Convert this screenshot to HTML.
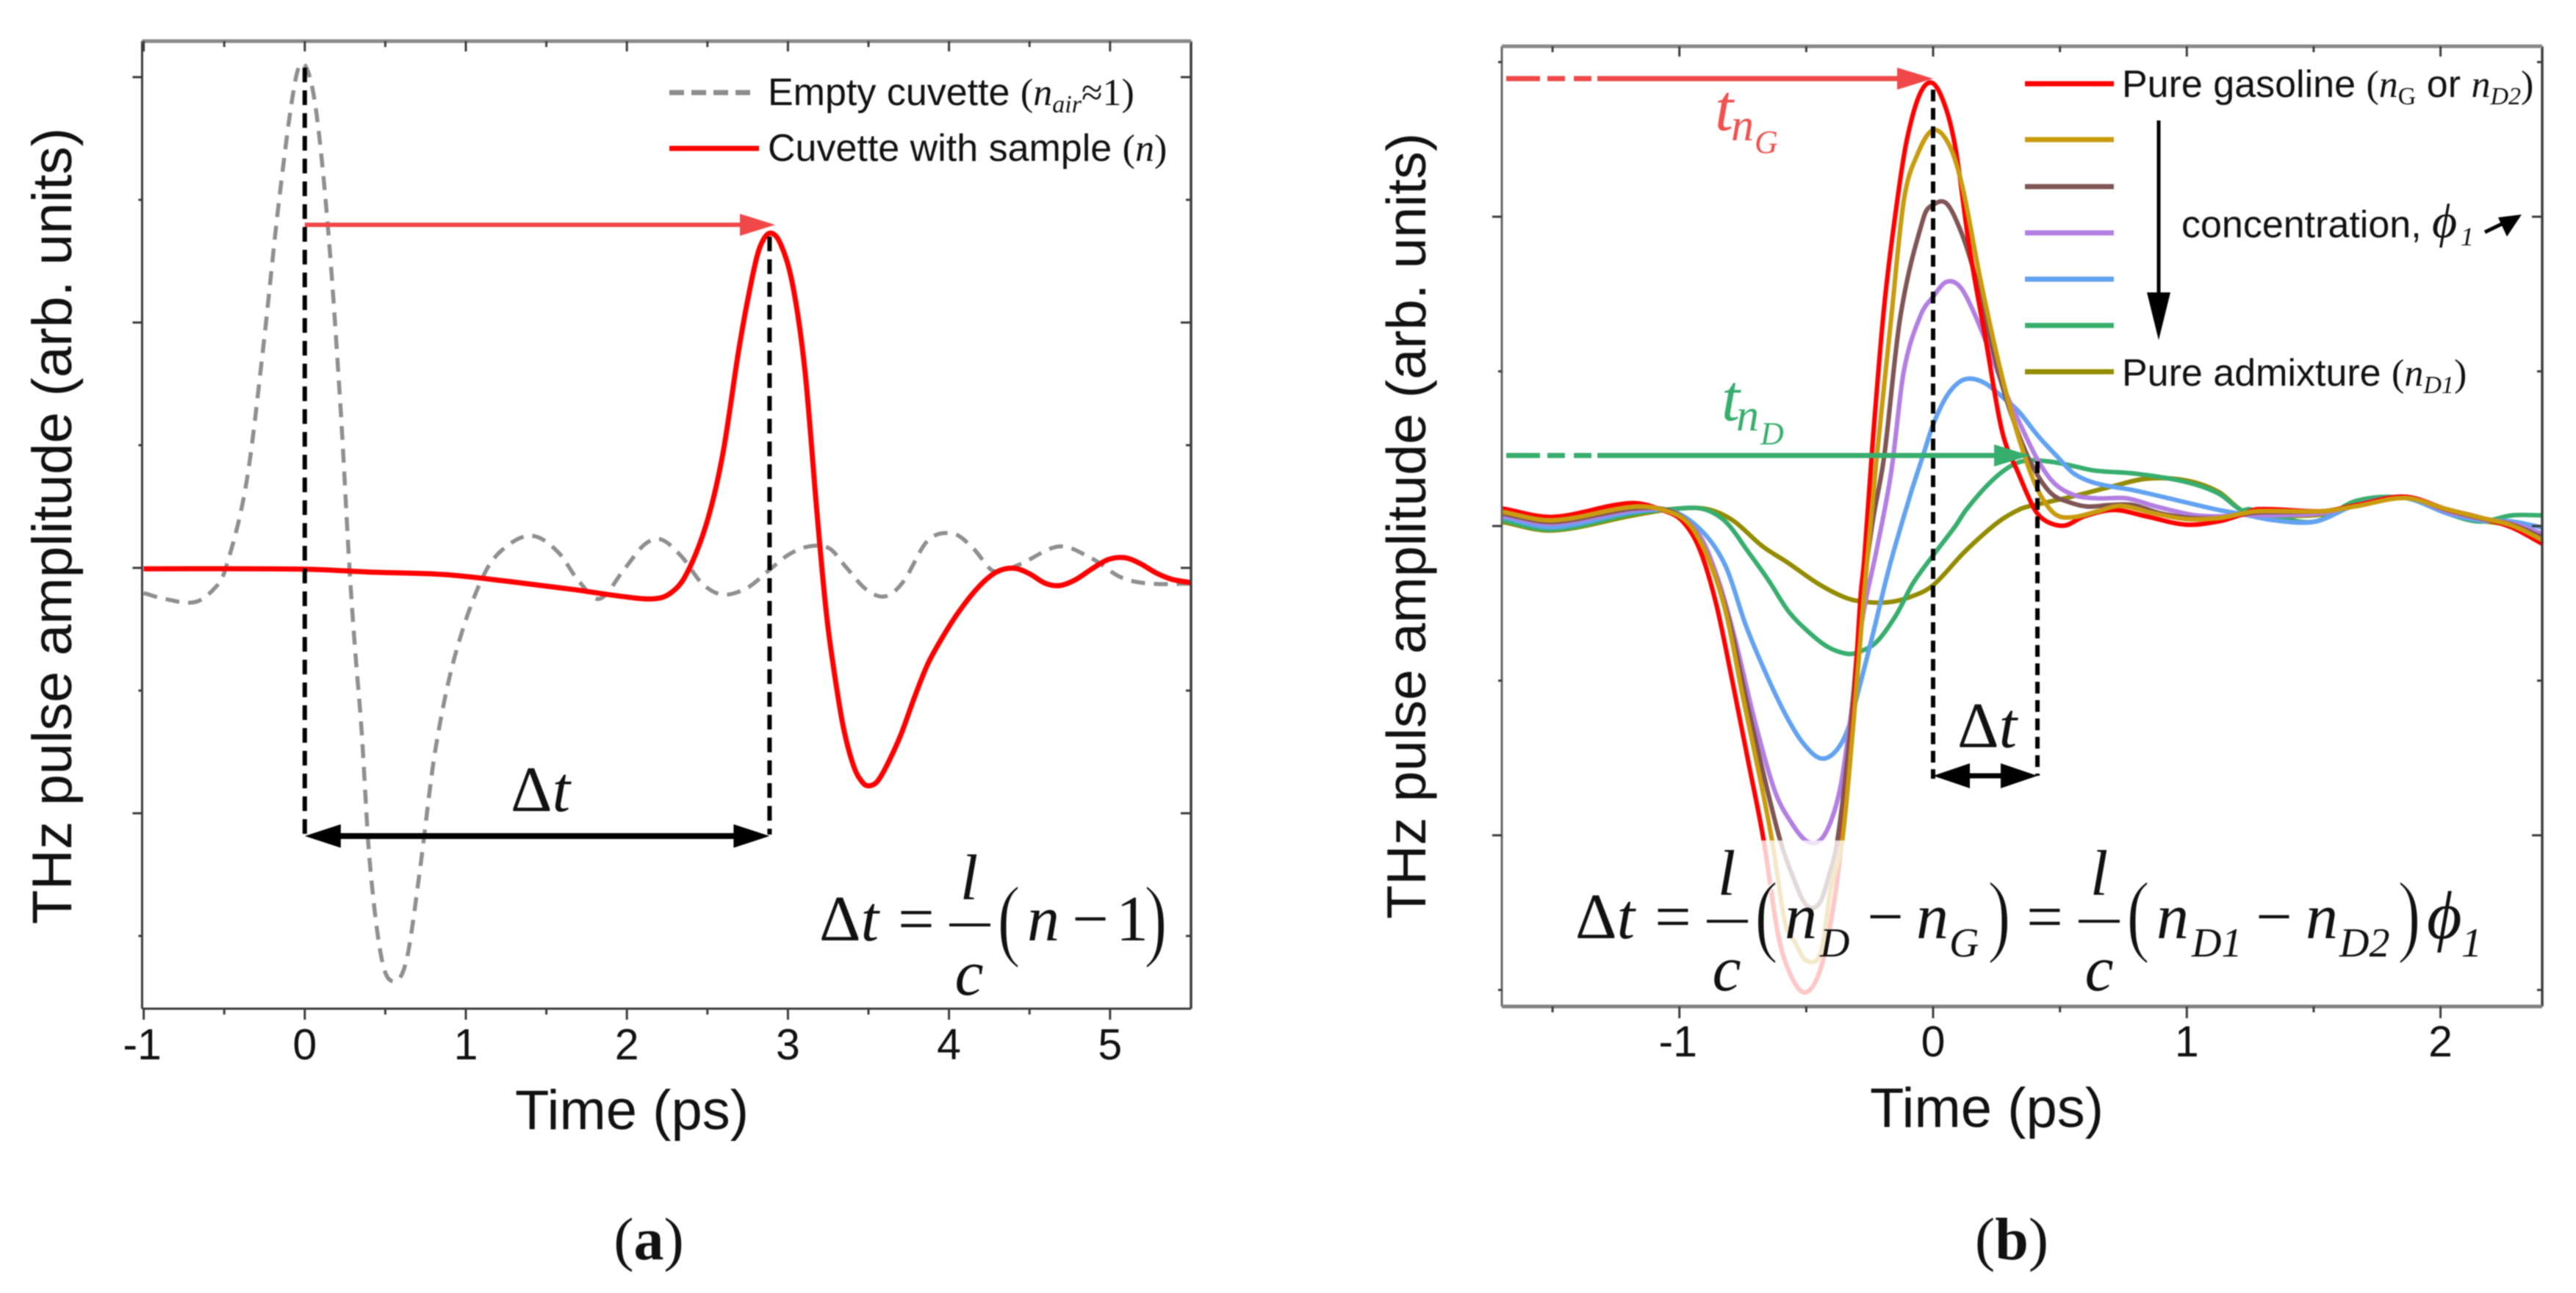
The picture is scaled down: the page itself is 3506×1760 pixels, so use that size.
<!DOCTYPE html>
<html>
<head>
<meta charset="utf-8">
<title>THz pulse amplitude charts</title>
<style>
html,body{margin:0;padding:0;background:#fff}
svg{display:block;filter:blur(0.7px)}
.sans{font-family:"Liberation Sans",sans-serif}
.serif{font-family:"Liberation Serif",serif}
.it{font-family:"Liberation Serif",serif;font-style:italic}
.paren{font-family:"Liberation Serif",serif;font-size:96px;stroke:#fff;stroke-width:1.6px}
</style>
</head>
<body>
<svg id="fig" xmlns="http://www.w3.org/2000/svg" width="3506" height="1760" viewBox="0 0 3506 1760">
<rect width="3506" height="1760" fill="#fff"/>
<g id="a-series"></g>
<g id="a-axes"></g>
<g id="b-series"></g>
<rect x="2047" y="1144" width="1411" height="224" fill="#fff" fill-opacity="0.78"/>
<g id="b-axes"></g>
<g id="a-annot"></g>
<g id="b-annot"></g>

<!-- panel a text -->
<text class="sans" font-size="76.5" text-anchor="middle" transform="translate(97,716) rotate(-90)" fill="#111">THz pulse amplitude (arb. units)</text>
<text class="sans" font-size="76" text-anchor="middle" x="860" y="1537" fill="#111">Time (ps)</text>
<g>
<line x1="911" y1="126" x2="1031" y2="126" stroke="#8c8c8c" stroke-width="7" stroke-dasharray="20 10"/>
<line x1="911" y1="202" x2="1033" y2="202" stroke="#f00" stroke-width="7"/>
<text x="1045" y="143" font-size="52" fill="#111"><tspan class="sans">Empty cuvette </tspan><tspan class="serif">(</tspan><tspan class="it">n</tspan><tspan class="it" font-size="34" dy="10">air</tspan><tspan class="serif" dy="-10">≈1)</tspan></text>
<text x="1045" y="219" font-size="52" fill="#111"><tspan class="sans">Cuvette with sample </tspan><tspan class="serif">(</tspan><tspan class="it">n</tspan><tspan class="serif">)</tspan></text>
</g>
<text x="695" y="1104" font-size="88" fill="#111"><tspan class="serif">Δ</tspan><tspan class="it">t</tspan></text>
<g fill="#111">
<text x="1115" y="1280" font-size="88"><tspan class="serif">Δ</tspan><tspan class="it">t</tspan></text>
<text class="serif" x="1247" y="1280" font-size="88" text-anchor="middle">=</text>
<text class="it" x="1319" y="1224" font-size="88" text-anchor="middle">l</text>
<line x1="1292" y1="1259" x2="1348" y2="1259" stroke="#111" stroke-width="4"/>
<text class="it" x="1319" y="1354" font-size="88" text-anchor="middle">c</text>
<text class="paren" transform="translate(1357,1292) scale(1,1.3)">(</text>
<text class="it" x="1398" y="1280" font-size="88">n</text>
<text class="serif" x="1484" y="1280" font-size="88" text-anchor="middle">−</text>
<text class="serif" x="1519" y="1280" font-size="88">1</text>
<text class="paren" transform="translate(1557,1292) scale(1,1.3)">)</text>
</g>
<text x="883" y="1714" font-size="82" text-anchor="middle" fill="#111"><tspan class="serif">(</tspan><tspan class="serif" font-weight="bold">a</tspan><tspan class="serif">)</tspan></text>

<!-- panel b text -->
<text class="sans" font-size="75.5" text-anchor="middle" transform="translate(1940,716) rotate(-90)" fill="#111">THz pulse amplitude (arb. units)</text>
<text class="sans" font-size="76" text-anchor="middle" x="2704" y="1534" fill="#111">Time (ps)</text>
<g>
<line x1="2756" y1="114" x2="2877" y2="114" stroke="#f00" stroke-width="7"/>
<line x1="2756" y1="190" x2="2877" y2="190" stroke="#c99c10" stroke-width="7"/>
<line x1="2756" y1="254" x2="2877" y2="254" stroke="#7f5555" stroke-width="7"/>
<line x1="2756" y1="317" x2="2877" y2="317" stroke="#b37fe2" stroke-width="7"/>
<line x1="2756" y1="380" x2="2877" y2="380" stroke="#62a2f0" stroke-width="7"/>
<line x1="2756" y1="443" x2="2877" y2="443" stroke="#38ae6e" stroke-width="7"/>
<line x1="2756" y1="506" x2="2877" y2="506" stroke="#938c00" stroke-width="7"/>
<text x="2888" y="132" font-size="52" fill="#111"><tspan class="sans">Pure gasoline </tspan><tspan class="serif">(</tspan><tspan class="it">n</tspan><tspan class="serif" font-size="34" dy="10">G</tspan><tspan class="sans" dy="-10"> or </tspan><tspan class="it">n</tspan><tspan class="it" font-size="34" dy="10">D2</tspan><tspan class="serif" dy="-10">)</tspan></text>
<text x="2888" y="525" font-size="52" fill="#111"><tspan class="sans">Pure admixture </tspan><tspan class="serif">(</tspan><tspan class="it">n</tspan><tspan class="it" font-size="34" dy="10">D1</tspan><tspan class="serif" dy="-10">)</tspan></text>
<text class="sans" x="2969" y="323" font-size="52" fill="#111">concentration,</text>
<text class="it" x="3310" y="323" font-size="66" fill="#111">ϕ</text>
<text class="it" x="3349" y="334" font-size="36" fill="#111">1</text>
</g>
<text class="it" x="2334" y="177" font-size="90" fill="#f05050">t</text>
<text class="it" x="2356" y="191" font-size="62" fill="#f05050">n</text>
<text class="it" x="2388" y="208" font-size="44" fill="#f05050">G</text>
<text class="it" x="2343" y="572" font-size="90" fill="#38ae6e">t</text>
<text class="it" x="2363" y="586" font-size="62" fill="#38ae6e">n</text>
<text class="it" x="2396" y="605" font-size="44" fill="#38ae6e">D</text>
<text x="2664" y="1017" font-size="88" fill="#111"><tspan class="serif">Δ</tspan><tspan class="it">t</tspan></text>
<g fill="#111">
<text x="2144" y="1277" font-size="88"><tspan class="serif">Δ</tspan><tspan class="it">t</tspan></text>
<text class="serif" x="2277" y="1277" font-size="88" text-anchor="middle">=</text>
<text class="it" x="2350" y="1218" font-size="88" text-anchor="middle">l</text>
<line x1="2323" y1="1254" x2="2379" y2="1254" stroke="#111" stroke-width="4"/>
<text class="it" x="2350" y="1348" font-size="88" text-anchor="middle">c</text>
<text class="paren" transform="translate(2388,1286) scale(1,1.3)">(</text>
<text class="it" x="2429" y="1277" font-size="88">n</text>
<text class="it" x="2477" y="1302" font-size="56">D</text>
<text class="serif" x="2566" y="1277" font-size="88" text-anchor="middle">−</text>
<text class="it" x="2608" y="1277" font-size="88">n</text>
<text class="it" x="2653" y="1302" font-size="56">G</text>
<text class="paren" transform="translate(2705,1286) scale(1,1.3)">)</text>
<text class="serif" x="2783" y="1277" font-size="88" text-anchor="middle">=</text>
<text class="it" x="2857" y="1218" font-size="88" text-anchor="middle">l</text>
<line x1="2829" y1="1254" x2="2885" y2="1254" stroke="#111" stroke-width="4"/>
<text class="it" x="2857" y="1348" font-size="88" text-anchor="middle">c</text>
<text class="paren" transform="translate(2894,1286) scale(1,1.3)">(</text>
<text class="it" x="2935" y="1277" font-size="88">n</text>
<text class="it" x="2983" y="1302" font-size="56">D1</text>
<text class="serif" x="3095" y="1277" font-size="88" text-anchor="middle">−</text>
<text class="it" x="3138" y="1277" font-size="88">n</text>
<text class="it" x="3184" y="1302" font-size="56">D2</text>
<text class="paren" transform="translate(3263,1286) scale(1,1.3)">)</text>
<text class="it" x="3303" y="1277" font-size="92">ϕ</text>
<text class="it" x="3350" y="1302" font-size="56">1</text>
</g>
<text x="2738" y="1714" font-size="82" text-anchor="middle" fill="#111"><tspan class="serif">(</tspan><tspan class="serif" font-weight="bold">b</tspan><tspan class="serif">)</tspan></text>
</svg>

<script>
/* ---------- Panel (a) data ---------- */
const aXTickLabels = [-1, 0, 1, 2, 3, 4, 5];
const aXMinorTicks = [-0.5, 0.5, 1.5, 2.5, 3.5, 4.5];
const aYMajorTicks = [-2, 0, 2, 4];
const aYMinorTicks = [-3, -1, 1, 3];
const emptyTime = [-1,-.872,-.683,-.556,-.49,-.362,-.26,-.158,-.056,.005,.071,.148,.224,.275,.311,.352,.403,.479,.556,.632,.709,.811,.938,1.117,1.27,1.423,1.576,1.703,1.831,1.984,2.111,2.213,2.341,2.468,2.596,2.749,2.876,3.004,3.131,3.258,3.36,3.488,3.605,3.717,3.87,4.029,4.151,4.278,4.431,4.686,4.89,5.069,5.247,5.5];
const emptyAmp = [-.205,-.252,-.279,-.161,0,.696,1.771,3.014,3.989,4.089,3.72,2.712,1.267,.057,-.642,-1.313,-2.388,-3.195,-3.369,-3.195,-2.523,-1.481,-.691,-.044,.192,.259,.124,-.111,-.252,-.01,.192,.232,.091,-.128,-.218,-.161,-.027,.108,.175,.158,.007,-.178,-.232,-.111,.225,.278,.158,-.027,.024,.175,.074,-.077,-.128,-.128];
const sampleTime = [-1,0,.403,.862,1.27,1.678,1.984,2.162,2.264,2.366,2.494,2.596,2.698,2.774,2.825,2.886,2.953,3.029,3.106,3.181,3.238,3.287,3.344,3.409,3.466,3.506,3.555,3.62,3.703,3.784,3.866,3.947,4.044,4.143,4.24,4.321,4.411,4.5,4.598,4.688,4.786,4.892,4.989,5.088,5.186,5.283,5.381,5.5];
const sampleAmp = [-.007,-.01,-.034,-.054,-.111,-.178,-.235,-.252,-.212,-.06,.36,.931,1.804,2.342,2.611,2.728,2.644,2.308,1.603,.437,-.364,-.846,-1.299,-1.62,-1.753,-1.776,-1.741,-1.594,-1.354,-1.06,-.79,-.593,-.39,-.216,-.084,-.018,-.004,-.048,-.126,-.144,-.096,-.004,.068,.084,.036,-.039,-.092,-.12];

/* ---------- Panel (b) data ---------- */
const bXTickLabels = [-1, 0, 1, 2];
const bXMinorTicks = [-1.5, -0.5, 0.5, 1.5];
const bYMajorTicks = [-2, 0, 2];
const bYMinorTicks = [-3, -1, 1, 3];
const gasolineTime = [-1.7,-1.5,-1.19,-1.049,-.985,-.92,-.855,-.79,-.726,-.668,-.61,-.558,-.5,-.441,-.39,-.358,-.325,-.286,-.271,-.24,-.193,-.142,-.103,-.051,0,.052,.091,.143,.207,.272,.337,.401,.447,.518,.595,.712,.841,.996,1.125,1.213,1.279,1.538,1.668,1.862,2.024,2.153,2.283,2.403];
const gasolineAmp = [.114,.059,.148,.092,.026,-.151,-.505,-1.014,-1.544,-2.031,-2.65,-2.916,-3.015,-2.85,-2.43,-2.01,-1.456,-.461,-.21,.5,1.419,2.098,2.5,2.798,2.862,2.692,2.416,1.801,1.207,.613,.338,.104,.03,.003,.062,.104,.062,.009,.03,.072,.109,.096,.136,.189,.109,.056,-.011,-.117];
const mix1Time = [-1.7,-1.5,-1.178,-1.049,-.957,-.879,-.815,-.75,-.685,-.635,-.584,-.545,-.5,-.441,-.403,-.358,-.312,-.273,-.222,-.167,-.116,-.064,0,.065,.117,.182,.246,.311,.376,.427,.485,.556,.647,.738,.867,.996,1.125,1.213,1.279,1.538,1.668,1.862,2.024,2.153,2.283,2.403];
const mix1Amp = [.092,.037,.125,.097,.004,-.239,-.571,-1.102,-1.61,-2.031,-2.56,-2.69,-2.81,-2.75,-2.34,-2.03,-1.235,-.461,.45,1.313,2.098,2.395,2.56,2.459,2.183,1.631,1.144,.719,.38,.189,.072,.058,.094,.13,.083,.045,.051,.079,.096,.096,.128,.181,.109,.056,.003,-.091];
const mix2Time = [-1.7,-1.5,-1.178,-1.036,-.946,-.868,-.804,-.739,-.674,-.603,-.551,-.5,-.448,-.409,-.377,-.332,-.286,-.241,-.193,-.129,-.038,0,.052,.104,.156,.207,.272,.337,.401,.466,.531,.608,.699,.789,.893,1.022,1.125,1.213,1.279,1.538,1.668,1.862,2.024,2.153,2.283,2.403];
const mix2Amp = [.081,.026,.114,.097,-.018,-.284,-.615,-1.102,-1.566,-2.031,-2.274,-2.451,-2.44,-2.252,-2.031,-1.412,-.571,.0,.45,1.356,1.992,2.077,2.087,1.928,1.674,1.334,.91,.592,.359,.21,.157,.126,.136,.136,.083,.051,.051,.072,.088,.096,.132,.185,.105,.052,.008,-.075];
const mix3Time = [-1.7,-1.5,-1.178,-1.036,-.92,-.842,-.778,-.7,-.622,-.558,-.5,-.448,-.403,-.364,-.325,-.28,-.222,-.165,-.116,-.051,0,.052,.104,.156,.22,.285,.35,.414,.479,.556,.647,.763,.88,1.022,1.125,1.213,1.344,1.538,1.668,1.862,2.024,2.153,2.283,2.403];
const mix3Amp = [.07,.015,.103,.092,-.063,-.372,-.748,-1.279,-1.721,-1.92,-2.036,-2.036,-1.91,-1.677,-1.235,-.615,-.15,.35,.995,1.356,1.483,1.578,1.551,1.398,1.144,.868,.635,.422,.274,.2,.179,.179,.126,.072,.062,.072,.069,.083,.136,.189,.096,.048,.016,-.051];
const mix4Time = [-1.7,-1.5,-1.178,-1.023,-.907,-.817,-.739,-.661,-.584,-.519,-.448,-.39,-.338,-.293,-.235,-.17,-.09,-.038,0,.052,.104,.149,.207,.272,.337,.414,.492,.556,.647,.789,.957,1.125,1.213,1.344,1.506,1.668,1.862,2.024,2.153,2.283,2.403];
const mix4Amp = [.059,-.007,.092,.092,-.04,-.262,-.638,-.947,-1.212,-1.39,-1.5,-1.467,-1.323,-1.058,-.682,-.25,.2,.465,.656,.836,.932,.953,.921,.836,.741,.582,.444,.338,.274,.232,.168,.104,.079,.037,.029,.136,.181,.083,.037,.029,-.011];
const mix5Time = [-1.7,-1.5,-1.178,-1.023,-.907,-.817,-.726,-.649,-.571,-.493,-.416,-.338,-.293,-.222,-.144,-.08,0,.088,.13,.22,.298,.362,.453,.544,.634,.802,.996,1.125,1.213,1.247,1.344,1.506,1.668,1.862,2.024,2.153,2.283,2.403];
const mix5Amp = [.037,-.023,.081,.11,.11,.026,-.173,-.35,-.549,-.682,-.781,-.826,-.815,-.748,-.571,-.372,-.19,.0,.104,.274,.38,.422,.418,.391,.359,.338,.285,.21,.104,.109,.064,.029,.163,.181,.083,.029,.069,.069];
const admixtureTime = [-1.7,-1.5,-1.178,-1.023,-.894,-.79,-.674,-.571,-.454,-.351,-.286,-.183,-.092,0,.127,.257,.344,.401,.544,.699,.841,.996,1.125,1.213,1.247,1.344,1.538,1.668,1.862,2.024,2.153,2.283,2.403];
const admixtureAmp = [.026,-.029,.07,.11,.11,.037,-.129,-.239,-.372,-.46,-.487,-.494,-.46,-.383,-.162,.026,.11,.136,.189,.253,.306,.295,.221,.104,.096,.069,.075,.136,.189,.096,.037,.003,-.064];

/* ---------- Axis functions ---------- */
const ax = t => 414.8 + 219.2 * t;
const ay = v => 773 - 167 * v;
const bx = t => 2631 + 345.3 * t;
const by = v => 716 - 210.5 * v;
const NS = 'http://www.w3.org/2000/svg';

function mk(parent, tag, attrs) {
  const el = document.createElementNS(NS, tag);
  for (const k in attrs) el.setAttribute(k, attrs[k]);
  parent.appendChild(el);
  return el;
}
function curve(ts, vs, fx, fy) {
  const p = ts.map((t, i) => [fx(t), fy(vs[i])]);
  const m = p.map((q, i) => {
    const a = p[Math.max(i - 1, 0)], b = p[Math.min(i + 1, p.length - 1)];
    return (b[1] - a[1]) / (b[0] - a[0]);
  });
  let d = 'M' + p[0][0].toFixed(1) + ' ' + p[0][1].toFixed(1);
  for (let i = 0; i < p.length - 1; i++) {
    const h = (p[i + 1][0] - p[i][0]) / 3;
    d += 'C' + (p[i][0] + h).toFixed(1) + ' ' + (p[i][1] + m[i] * h).toFixed(1) + ' ' +
      (p[i + 1][0] - h).toFixed(1) + ' ' + (p[i + 1][1] - m[i + 1] * h).toFixed(1) + ' ' +
      p[i + 1][0].toFixed(1) + ' ' + p[i + 1][1].toFixed(1);
  }
  return d;
}
function hArrow(parent, x1, x2, y, color, w, headL, headH, both, name) {
  const g = mk(parent, 'g', {});
  
  
  mk(g, 'line', {x1: both ? x1 + headL - 2 : x1, y1: y, x2: x2 - headL + 2, y2: y, stroke: color, 'stroke-width': w});
  mk(g, 'polygon', {points: (x2 - headL) + ',' + (y - headH) + ' ' + x2 + ',' + y + ' ' + (x2 - headL) + ',' + (y + headH), fill: color});
  if (both) mk(g, 'polygon', {points: (x1 + headL) + ',' + (y - headH) + ' ' + x1 + ',' + y + ' ' + (x1 + headL) + ',' + (y + headH), fill: color});
  return g;
}
function axes(group, f) {
  const stroke = '#3c3c3c';
  const seg = (x1, y1, x2, y2, w, c) => mk(group, 'line', {x1, y1, x2, y2, stroke: c || stroke, 'stroke-width': w});
  // frame
  seg(f.l, f.t, f.l, f.b, f.leftW, f.leftC);
  seg(f.r, f.t, f.r, f.b, 3.5);
  seg(f.l, f.t, f.r, f.t, 5, '#8a8a8a');
  seg(f.l, f.b, f.r, f.b, f.bottomW, f.bottomC);
  // x ticks
  f.xMajor.forEach(t => {
    seg(f.x(t), f.b, f.x(t), f.b + f.xLong, 3);
    seg(f.x(t), f.t, f.x(t), f.t + 14, 3);
    const lbl = mk(group, 'text', {x: f.x(t) - (t < 0 ? 2 : 0), y: f.labelY, 'text-anchor': 'middle', 'font-size': 59, fill: '#111', 'font-family': '"Liberation Sans",sans-serif'});
    lbl.textContent = String(t);
    
    
  });
  f.xMinor.forEach(t => {
    seg(f.x(t), f.b, f.x(t), f.b + 8, 3);
    seg(f.x(t), f.t, f.x(t), f.t + 8, 3);
  });
  // y ticks
  f.yMajor.forEach(v => {
    seg(f.l - 13, f.y(v), f.l, f.y(v), 3);
    seg(f.r - 14, f.y(v), f.r, f.y(v), 3);
  });
  f.yMinor.forEach(v => {
    seg(f.l - 5, f.y(v), f.l, f.y(v), 3);
    seg(f.r - 7, f.y(v), f.r, f.y(v), 3);
  });
}

/* ---------- Panel (a) ---------- */
const aSeries = document.getElementById('a-series');
const emptyPath = mk(aSeries, 'path', {d: curve(emptyTime, emptyAmp, ax, ay), fill: 'none', stroke: '#8f8f8f', 'stroke-width': 5.5, 'stroke-dasharray': '19 12'});


const samplePath = mk(aSeries, 'path', {d: curve(sampleTime, sampleAmp, ax, ay), fill: 'none', stroke: '#f00', 'stroke-width': 7});



axes(document.getElementById('a-axes'), {
  l: 193.4, r: 1621, t: 56, b: 1373, x: ax, y: ay,
  xMajor: aXTickLabels, xMinor: aXMinorTicks, yMajor: aYMajorTicks, yMinor: aYMinorTicks,
  leftW: 3, bottomW: 3, xLong: 15, labelY: 1442
});

const aAnnot = document.getElementById('a-annot');
const aDash1 = mk(aAnnot, 'line', {x1: ax(0), y1: 92, x2: ax(0), y2: 1136, stroke: '#000', 'stroke-width': 6, 'stroke-dasharray': '20 11'});


const aDash2 = mk(aAnnot, 'line', {x1: ax(2.886), y1: 322, x2: ax(2.886), y2: 1136, stroke: '#000', 'stroke-width': 6, 'stroke-dasharray': '20 11'});


hArrow(aAnnot, ax(0), 1055, 306, '#f04848', 6, 48, 15, false, 'delay-red-arrow');
hArrow(aAnnot, ax(0), ax(2.886), 1138, '#000', 8, 49, 16, true, 'delta-t-arrow');

/* ---------- Panel (b) ---------- */
const bSeries = document.getElementById('b-series');
const bLines = [
  {ts: admixtureTime, vs: admixtureAmp, c: '#938c00'},
  {ts: mix5Time, vs: mix5Amp, c: '#38ae6e'},
  {ts: mix4Time, vs: mix4Amp, c: '#62a2f0'},
  {ts: mix3Time, vs: mix3Amp, c: '#b37fe2'},
  {ts: mix2Time, vs: mix2Amp, c: '#7f5555'},
  {ts: gasolineTime, vs: gasolineAmp, c: '#f00'},
  {ts: mix1Time, vs: mix1Amp, c: '#c99c10'}
];
bLines.forEach(s => {
  const p = mk(bSeries, 'path', {d: curve(s.ts, s.vs, bx, by), fill: 'none', stroke: s.c, 'stroke-width': 6.2});
  
  
});

axes(document.getElementById('b-axes'), {
  l: 2044, r: 3460, t: 63, b: 1370, x: bx, y: by,
  xMajor: bXTickLabels, xMinor: bXMinorTicks, yMajor: bYMajorTicks, yMinor: bYMinorTicks,
  leftW: 3, leftC: '#666', bottomW: 5, bottomC: '#808080', xLong: 16, labelY: 1438
});

const bAnnot = document.getElementById('b-annot');
const bDash1 = mk(bAnnot, 'line', {x1: bx(0), y1: 122, x2: bx(0), y2: 1060, stroke: '#000', 'stroke-width': 6, 'stroke-dasharray': '16 9'});


const bDash2 = mk(bAnnot, 'line', {x1: 2773, y1: 628, x2: 2773, y2: 1056, stroke: '#000', 'stroke-width': 6, 'stroke-dasharray': '16 9'});



function dashedLead(y, color, name) {
  const g = mk(bAnnot, 'g', {});
  
  
  mk(g, 'line', {x1: 2050, y1: y, x2: 2096, y2: y, stroke: color, 'stroke-width': 7});
  mk(g, 'line', {x1: 2106, y1: y, x2: 2130, y2: y, stroke: color, 'stroke-width': 7});
  mk(g, 'line', {x1: 2142, y1: y, x2: 2166, y2: y, stroke: color, 'stroke-width': 7});
}
dashedLead(107, '#f04848', 'gasoline-arrow-dashed-lead');
hArrow(bAnnot, 2174, bx(0), 107, '#f04848', 7, 49, 15, false, 'gasoline-time-arrow');
dashedLead(620, '#38ae6e', 'admixture-arrow-dashed-lead');
hArrow(bAnnot, 2174, 2763, 620, '#38ae6e', 7, 49, 15, false, 'admixture-time-arrow');
hArrow(bAnnot, bx(0), 2773, 1056, '#000', 7, 50, 17, true, 'delta-t-arrow-b');

const conc = mk(bAnnot, 'g', {});


mk(conc, 'line', {x1: 2938, y1: 164, x2: 2938, y2: 400, stroke: '#000', 'stroke-width': 5});
mk(conc, 'polygon', {points: '2922,398 2954,398 2938,463', fill: '#000'});
const up = mk(bAnnot, 'g', {});


mk(up, 'line', {x1: 3382, y1: 316, x2: 3415, y2: 300, stroke: '#000', 'stroke-width': 5});
mk(up, 'polygon', {points: '3432,292 3412,322 3400,296', fill: '#000'});
</script>
</body>
</html>
